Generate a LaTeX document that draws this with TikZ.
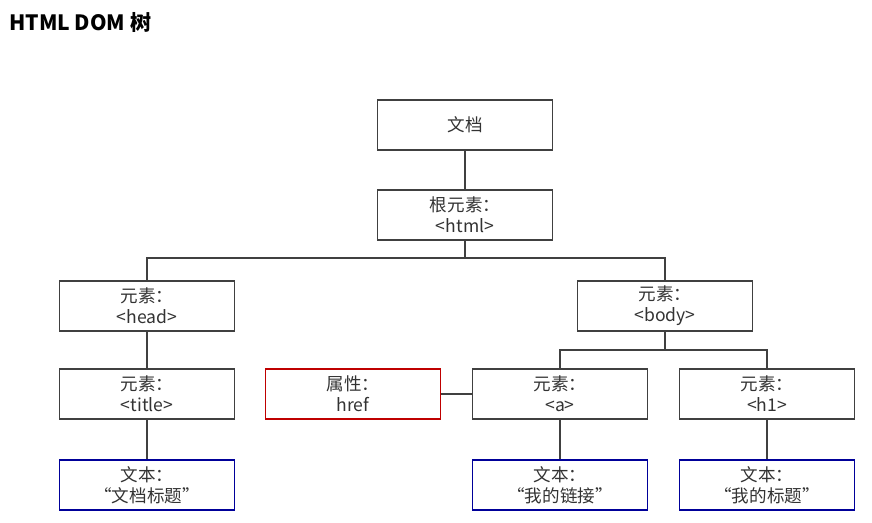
\documentclass[tikz,border=0pt]{standalone}
\usepackage{fontspec}
\setmainfont{Noto Sans CJK SC}
\begin{document}
\begin{tikzpicture}[x=0.02cm,y=-0.02cm,
  box/.style={draw=black!75,line width=0.8pt,minimum width=3.5cm,minimum height=1cm,align=center,font=\fontsize{10}{12}\selectfont,text=black!80,inner sep=1pt},
  redbox/.style={box,draw=red!75!black},
  bluebox/.style={box,draw=blue!60!black},
  ln/.style={draw=black!75,line width=0.8pt}]
\useasboundingbox (0,0) rectangle (872,522);
\node[anchor=west,font=\bfseries\fontsize{12}{14}\selectfont] (title) at (3,22) {HTML DOM 树};
\node[box] (doc) at (465,125) {文档};
\node[box] (html) at (465,215) {根元素：\\<html>};
\node[box] (head) at (147,306) {元素：\\<head>};
\node[box] (body) at (665,306) {元素：\\<body>};
\node[box] (ttl) at (147,394) {元素：\\<title>};
\node[redbox] (href) at (353,394) {属性：\\href};
\node[box] (a) at (560,394) {元素：\\<a>};
\node[box] (h1) at (767,394) {元素：\\<h1>};
\node[bluebox] (t1) at (147,485) {文本：\\“文档标题”};
\node[bluebox] (t2) at (560,485) {文本：\\“我的链接”};
\node[bluebox] (t3) at (767,485) {文本：\\“我的标题”};
\draw[ln] (doc) -- (html);
\draw[ln] (html.south) |- (147,258) -- (head.north);
\draw[ln] (html.south) |- (665,258) -- (body.north);
\draw[ln] (head) -- (ttl);
\draw[ln] (ttl) -- (t1);
\draw[ln] (body.south) |- (560,350) -- (a.north);
\draw[ln] (body.south) |- (767,350) -- (h1.north);
\draw[ln] (href) -- (a);
\draw[ln] (a) -- (t2);
\draw[ln] (h1) -- (t3);
\end{tikzpicture}
\end{document}
